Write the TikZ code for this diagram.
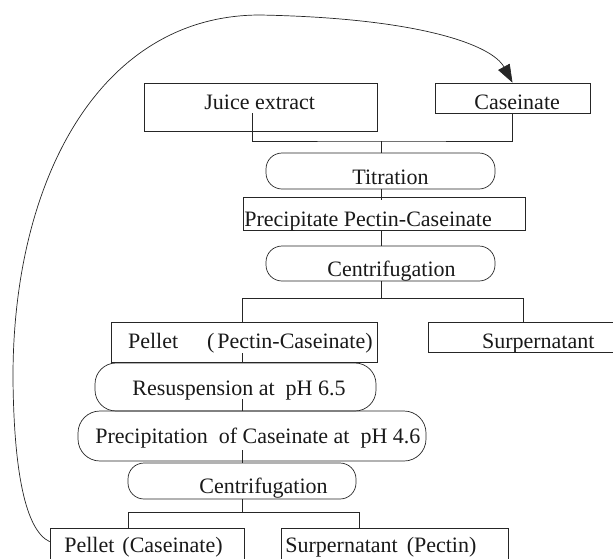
\documentclass[tikz,border=0pt]{standalone}
\usepackage{fontspec}
\setmainfont{Liberation Serif}
\usetikzlibrary{calc,arrows.meta}
\tikzset{
  box/.style={draw, rectangle, inner sep=0pt},
  pill/.style={draw, rectangle, rounded corners=#1, inner sep=0pt},
  lbl/.style={font=\fontsize{22}{26}\selectfont, inner sep=0pt, anchor=base west, text=black!90},
  conn/.style={line width=0.7pt, draw=black!85},
}
\begin{document}
\begin{tikzpicture}[x=1pt,y=-1pt, line width=0.7pt, every node/.append style={draw=black!85}]
\useasboundingbox (0,0) rectangle (613,558);
% boxes
\node[box, minimum width=233pt, minimum height=48pt] (juice) at (260.5,107) {};
\node[box, minimum width=155pt, minimum height=30pt] (cas) at (512.5,98) {};
\node[pill=16pt, minimum width=229pt, minimum height=36pt] (titr) at (380.5,171) {};
\node[box, minimum width=282pt, minimum height=33pt] (prec) at (384,213.5) {};
\node[pill=16pt, minimum width=229pt, minimum height=35pt] (cent1) at (380.5,263.5) {};
\node[box, minimum width=266pt, minimum height=40pt] (pelPC) at (244,342) {};
\node[box, minimum width=185pt, minimum height=30pt] (surp) at (521,337) {};
\node[pill=21pt, minimum width=281pt, minimum height=48pt] (resus) at (235.5,387) {};
\node[pill=22pt, minimum width=348pt, minimum height=50pt] (precip) at (252,436) {};
\node[pill=16pt, minimum width=228pt, minimum height=36pt] (cent2) at (242,481) {};
\node[box, minimum width=194pt, minimum height=44pt] (pelC) at (147,550) {};
\node[box, minimum width=227pt, minimum height=44pt] (surpP) at (394.5,550) {};
% labels
\node[lbl, draw=none] (tjuice) at (204,109) {Juice extract};
\node[lbl, draw=none] (tcas) at (474,109) {Caseinate};
\node[lbl, draw=none] (ttitr) at (352,184) {Titration};
\node[lbl, draw=none] (tprec) at (244,226.5) {Precipitate Pectin-Caseinate};
\node[lbl, draw=none] (tcent1) at (327,276) {Centrifugation};
\node[lbl, draw=none] (tpelPC) at (127.7,348) {Pellet\hspace{29pt}(\kern3pt Pectin-Caseinate)};
\node[lbl, draw=none] (tsurp) at (481.7,348) {Surpernatant};
\node[lbl, draw=none] (tresus) at (132,395) {Resuspension at\ \ pH 6.5};
\node[lbl, draw=none] (tprecip) at (95,443.3) {Precipitation\ \ of Caseinate at\ \ pH 4.6};
\node[lbl, draw=none] (tcent2) at (199,493.3) {Centrifugation};
\node[lbl, draw=none] (tpelC) at (64,552.5) {Pellet\hspace{8pt}(Caseinate)};
\node[lbl, draw=none] (tsurpP) at (285,552.5) {Surpernatant\hspace{9pt}(Pectin)};
% junction coordinates
\coordinate (m1) at (381,141);
\coordinate (ax) at (381,0);
\coordinate (m2) at (381,298);
\coordinate (b1) at (242,298);
\coordinate (b2) at (523,298);
\coordinate (ax2) at (242,0);
\coordinate (m3) at (242,512);
\coordinate (c1) at (128,512);
\coordinate (c2) at (359,512);
% connectors
\draw[conn] ($(juice.south)+(-8.5,-18)$) |- (m1) -| (cas.south);
\draw[conn] (m1) -- (ax |- titr.north);
\draw[conn] (ax |- titr.south) -- ($(ax |- prec.north)+(0,3)$);
\draw[conn] (ax |- prec.south) -- (ax |- cent1.north);
\draw[conn] (ax |- cent1.south) -- (m2);
\draw[conn] (b1 |- pelPC.north) -- (b1) -- (b2) -- (b2 |- surp.north);
\draw[conn] ($(ax2 |- pelPC.south)+(0,-9)$) -- (ax2 |- resus.north);
\draw[conn] ($(ax2 |- resus.south)+(0,-12)$) -- (ax2 |- precip.north);
\draw[conn] ($(ax2 |- precip.south)+(0,-11)$) -- (ax2 |- cent2.north);
\draw[conn] (ax2 |- cent2.south) -- (m3);
\draw[conn] (c1 |- pelC.north) -- (c1) -- (c2) -- (c2 |- surpP.north);
% feedback curve
\draw[conn, -{Triangle[length=18pt,width=13pt]}]
  ($(pelC.north west)+(0,14)$) .. controls (25,530) and (14,470) .. (13,380)
  .. controls (12,180) and (100,15) .. (260,15)
  .. controls (420,18) and (492,45) .. (cas.north);
\end{tikzpicture}
\end{document}
